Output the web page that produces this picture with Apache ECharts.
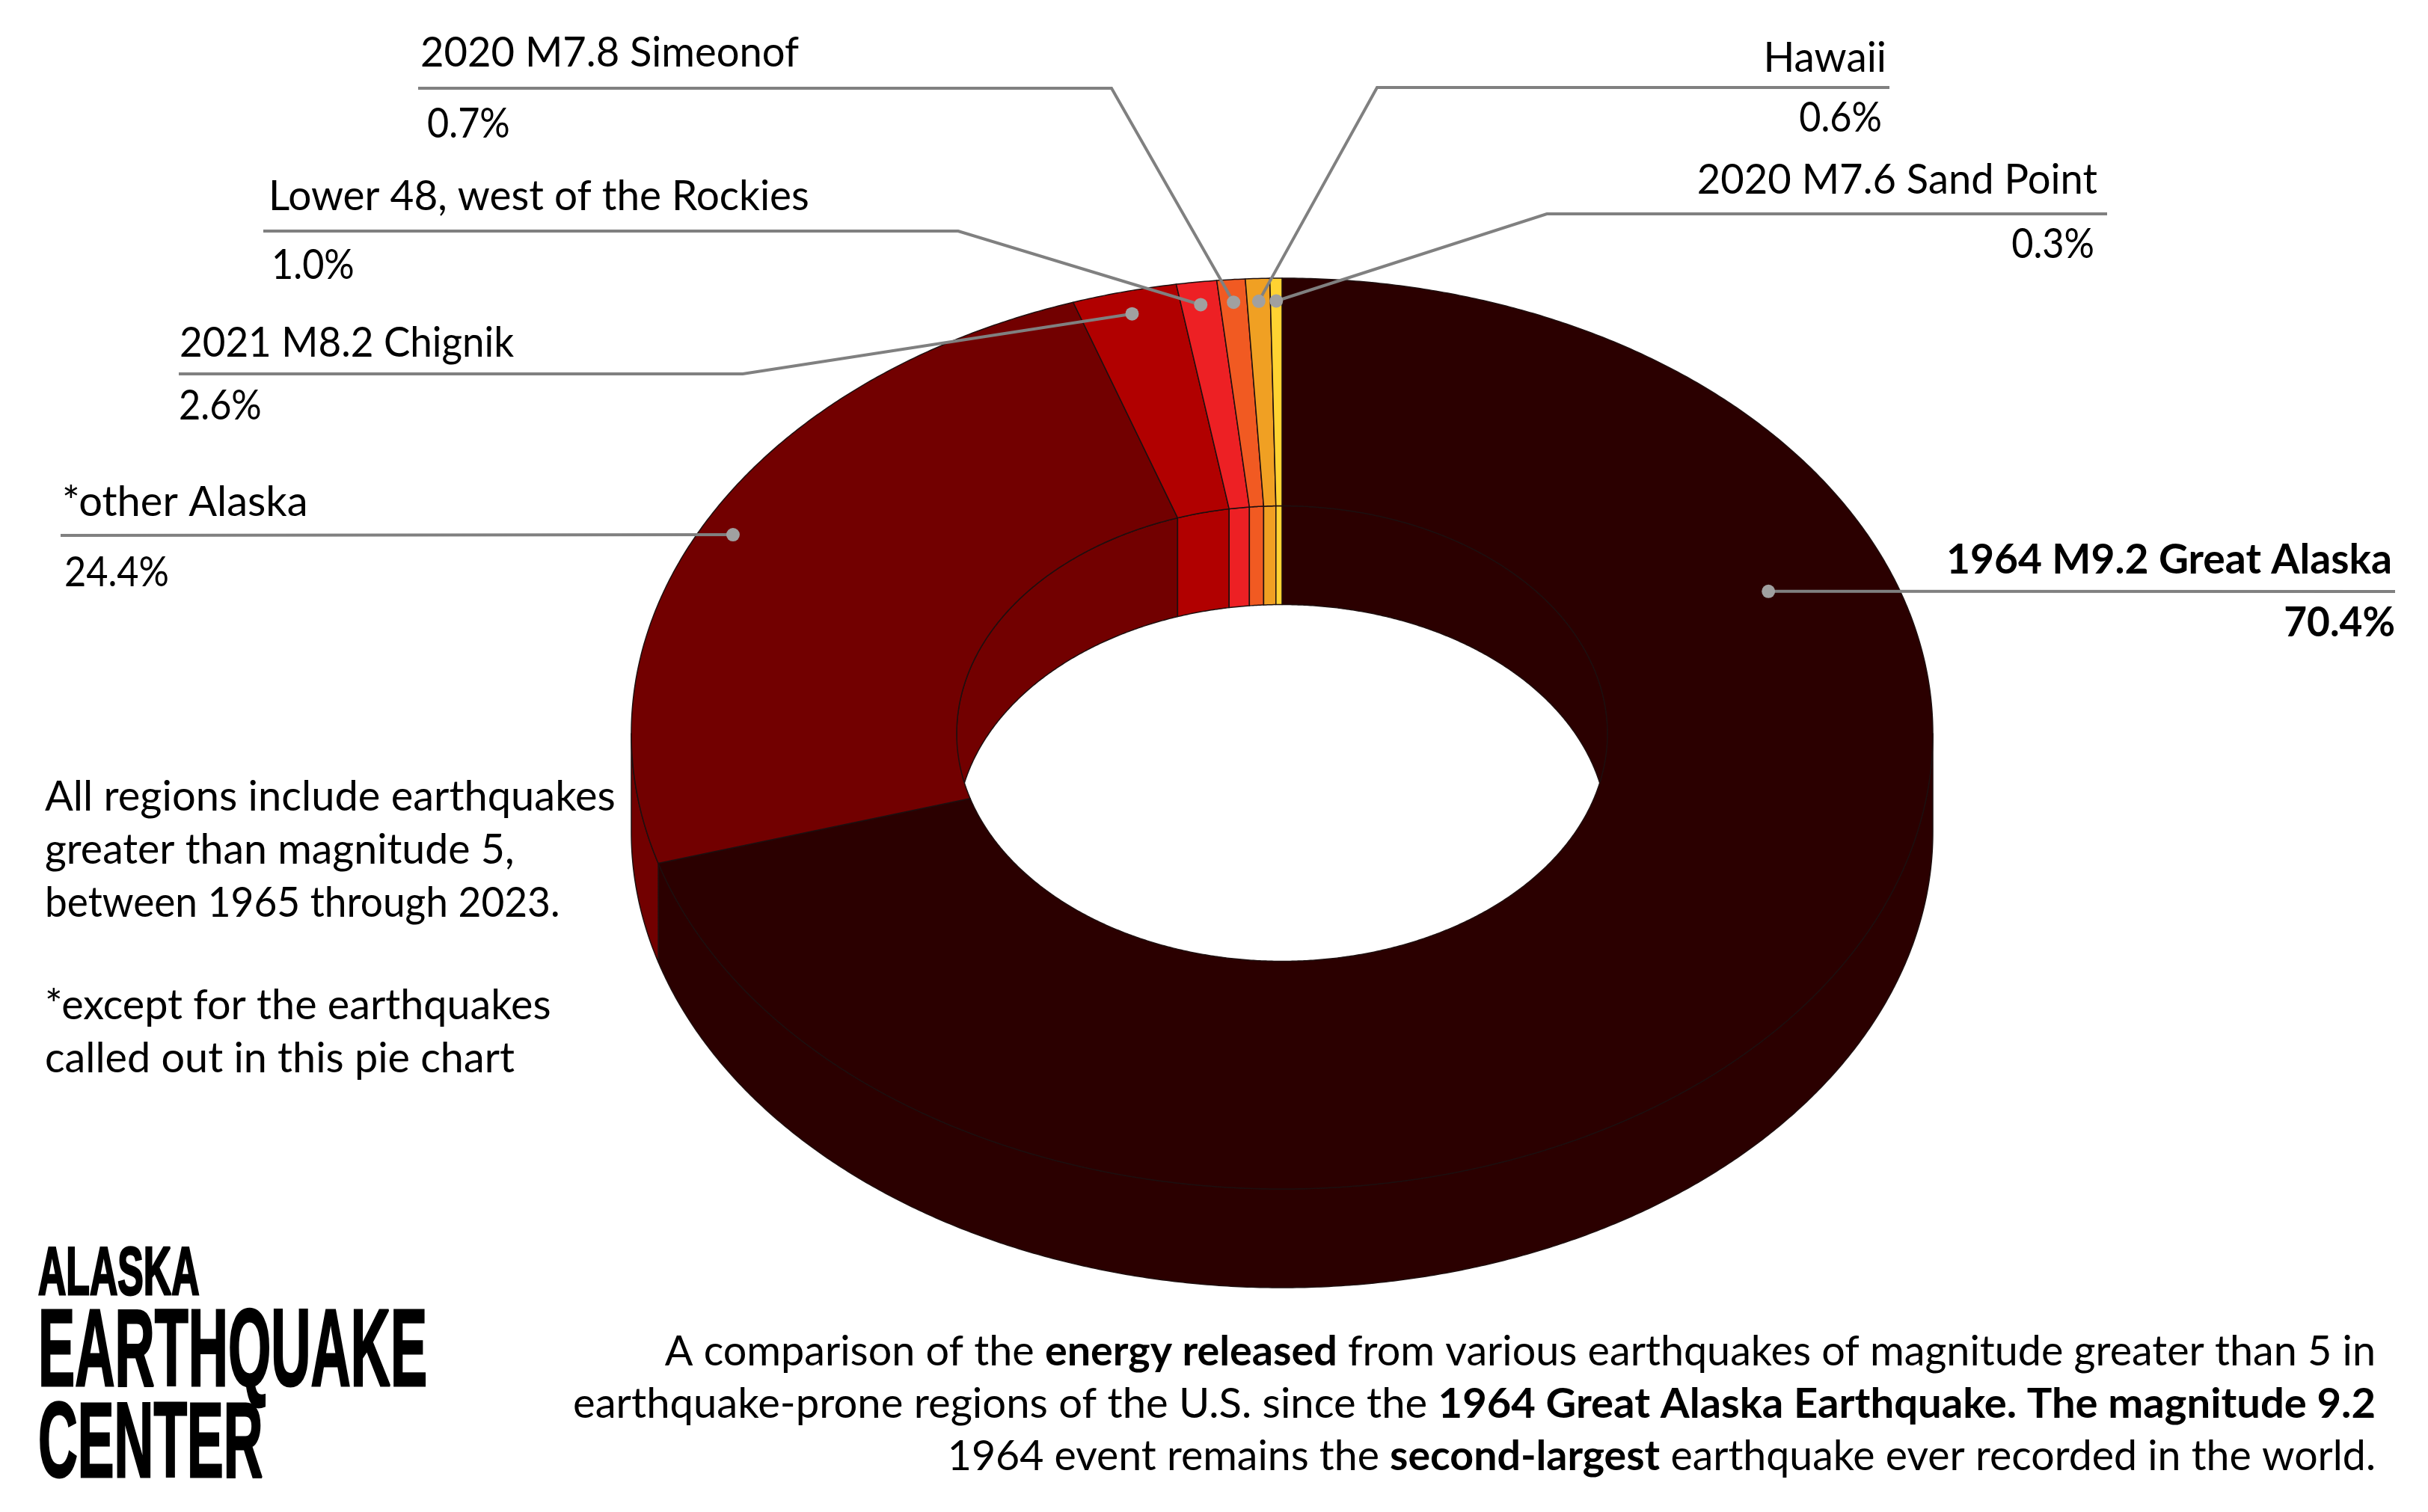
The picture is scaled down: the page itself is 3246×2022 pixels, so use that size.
<!DOCTYPE html>
<html>
<head>
<meta charset="utf-8">
<title>Alaska Earthquake Center energy pie</title>
<script src="https://cdn.jsdelivr.net/npm/echarts@6/dist/echarts.min.js"></script>
<style>
  html, body { margin: 0; padding: 0; background: #fff; }
  #container { width: 3246px; height: 2022px; }
</style>
</head>
<body>
<div id="container"></div>
<script>
// 数据，从 12 点方向顺时针
const regions = ['1964 M9.2 Great Alaska', '*other Alaska', '2021 M8.2 Chignik', 'Lower 48, west of the Rockies', '2020 M7.8 Simeonof', 'Hawaii', '2020 M7.6 Sand Point'];
const energyShare = [70.4, 24.4, 2.6, 1.0, 0.7, 0.6, 0.3];
const sliceColors = ['#2b0000', '#720000', '#b10000', '#ed2024', '#f15a22', '#f0a023', '#ffd332'];

// 饼图几何
const CX = 1714, CY = 981, RADIUS = 870;
const TILT = 0.7, DEPTH = 132, INNER = 0.5;
const EDGE = '#1e0f0f';
const FONT = 'Lato';

// 每块的起止百分比
let sum = 0;
const sliceRanges = energyShare.map(v => {
  const r = [sum, sum + v];
  sum += v;
  return r;
});

// 引线和标签的版面：x2 水平段远端，elbow 折点，name/pct 标签位置
const callouts = [
  { at: 18.7, r: 0.81, y: 791, x2: 3202, name: [3198, 766], pct: [3202, 850], align: 'right', bold: true, scale: 0.985 },
  { r: 0.95, y: 716, x2: 81, name: [83, 689], pct: [86, 783], align: 'left', scale: 1 },
  { r: 0.95, y: 500, x2: 239, elbow: 993, name: [240, 476], pct: [239, 560], align: 'left', scale: 0.945 },
  { r: 0.95, y: 309, x2: 352, elbow: 1281, name: [359, 280], pct: [363, 372], align: 'left', scale: 0.98 },
  { r: 0.95, y: 118, x2: 559, elbow: 1486, name: [562, 88], pct: [571, 183], align: 'left', scale: 0.97 },
  { r: 0.95, y: 117, x2: 2526, elbow: 1841, name: [2522, 95], pct: [2516, 175], align: 'right', scale: 0.98 },
  { r: 0.95, y: 286, x2: 2817, elbow: 2068, name: [2804, 258], pct: [2800, 344], align: 'right', scale: 0.97 }
];

// 文字，y 传基线
function textEl(str, x, baseline, size, opts) {
  opts = opts || {};
  return {
    type: 'text',
    x: x,
    y: baseline - size * 0.3,
    scaleX: opts.scaleX || 1,
    style: {
      text: str,
      align: opts.align || 'left',
      verticalAlign: 'middle',
      fontFamily: opts.font || FONT,
      fontSize: size,
      fontWeight: opts.weight || 400,
      fill: '#000',
      stroke: opts.stroke ? '#000' : undefined,
      lineWidth: opts.stroke || 0,
      rich: opts.rich
    }
  };
}

// 极坐标点压扁成椭圆
function project(api, r, pct, dz) {
  const p = api.coord([r, pct]);
  return [p[0], CY + (p[1] - CY) * TILT + dz];
}

function arc(api, r, from, to, dz) {
  const pts = [];
  const n = Math.max(2, Math.ceil(Math.abs(to - from) / 0.1));
  for (let i = 0; i <= n; i++) {
    pts.push(project(api, r, from + (to - from) * i / n, dz));
  }
  return pts;
}

function facePoly(points, color) {
  return {
    type: 'polygon',
    shape: { points: points },
    style: { fill: color, stroke: EDGE, lineWidth: 1.5, lineJoin: 'round' }
  };
}

// 侧壁：外壁看得到 25~75，内壁看得到 0~25 和 75~100
function renderWalls(params, api) {
  const a = api.value(0), b = api.value(1);
  const color = sliceColors[params.dataIndex];
  const children = [];
  [[0, 25], [75, 100]].forEach(range => {
    const from = Math.max(a, range[0]), to = Math.min(b, range[1]);
    if (to > from) {
      children.push(facePoly(arc(api, INNER, from, to, 0).concat(arc(api, INNER, to, from, DEPTH)), color));
    }
  });
  const from = Math.max(a, 25), to = Math.min(b, 75);
  if (to > from) {
    children.push(facePoly(arc(api, 1, from, to, 0).concat(arc(api, 1, to, from, DEPTH)), color));
  }
  return { type: 'group', children: children };
}

function renderTop(params, api) {
  const a = api.value(0), b = api.value(1);
  return facePoly(arc(api, 1, a, b, 0).concat(arc(api, INNER, b, a, 0)), sliceColors[params.dataIndex]);
}

function renderCallout(params, api) {
  const i = params.dataIndex;
  const c = callouts[i];
  const mid = (api.value(0) + api.value(1)) / 2;
  const dot = project(api, c.r, c.at !== undefined ? c.at : mid, 0);
  const pts = [dot];
  if (c.elbow) pts.push([c.elbow, c.y]);
  pts.push([c.x2, c.y]);
  const weight = c.bold ? 700 : 400;
  return {
    type: 'group',
    children: [
      { type: 'polyline', shape: { points: pts }, style: { fill: 'none', stroke: '#808080', lineWidth: 4 } },
      { type: 'circle', shape: { cx: dot[0], cy: dot[1], r: 9 }, style: { fill: '#a0a0a0' } },
      textEl(regions[i], c.name[0], c.name[1], 56, { align: c.align, weight: weight, scaleX: c.scale }),
      textEl(energyShare[i].toFixed(1) + '%', c.pct[0], c.pct[1], 56, { align: c.align, weight: weight, scaleX: c.bold ? 0.95 : 0.9 })
    ]
  };
}

function customSeries(name, z, render) {
  return {
    type: 'custom',
    name: name,
    coordinateSystem: 'polar',
    z: z,
    silent: true,
    clip: false,
    renderItem: render,
    data: sliceRanges
  };
}

const logoLines = [
  ['ALASKA', 1733, 90, 0.575],
  ['EARTHQUAKE', 1857, 146, 0.505],
  ['CENTER', 1978, 142, 0.515]
];
const noteLines = [
  ['All regions include earthquakes', 1083, 1],
  ['greater than magnitude 5,', 1154, 0.99],
  ['between 1965 through 2023.', 1225, 0.95],
  ['*except for the earthquakes', 1362, 0.995],
  ['called out in this pie chart', 1433, 0.995]
];
const captionLines = [
  ['A comparison of the {b|energy released} from various earthquakes of magnitude greater than 5 in', 1825, 0.994],
  ['earthquake-prone regions of the U.S. since the {b|1964 Great Alaska Earthquake. The magnitude 9.2}', 1895, 1.003],
  ['1964 event remains the {b|second-largest} earthquake ever recorded in the world.', 1965, 0.99]
];

const graphics = [];
logoLines.forEach(l => {
  graphics.push(textEl(l[0], 51, l[1], l[2], { font: 'Liberation Sans', weight: 700, scaleX: l[3], stroke: 3 }));
});
noteLines.forEach(l => {
  graphics.push(textEl(l[0], 60, l[1], 56, { scaleX: l[2] }));
});
captionLines.forEach(l => {
  graphics.push(textEl(l[0], 3176, l[1], 56, {
    align: 'right',
    scaleX: l[2],
    rich: { b: { fontFamily: FONT, fontSize: 56, fontWeight: 700, fill: '#000' } }
  }));
});

const myChart = echarts.init(document.getElementById('container'));
myChart.setOption({
  animation: false,
  backgroundColor: '#fff',
  polar: { center: [CX, CY], radius: RADIUS },
  angleAxis: {
    type: 'value', min: 0, max: 100, startAngle: 90,
    axisLine: { show: false }, axisTick: { show: false }, axisLabel: { show: false }, splitLine: { show: false }
  },
  radiusAxis: {
    type: 'value', min: 0, max: 1,
    axisLine: { show: false }, axisTick: { show: false }, axisLabel: { show: false }, splitLine: { show: false }
  },
  graphic: graphics,
  series: [
    customSeries('walls', 2, renderWalls),
    customSeries('top', 3, renderTop),
    customSeries('callouts', 4, renderCallout)
  ]
});
</script>
</body>
</html>
